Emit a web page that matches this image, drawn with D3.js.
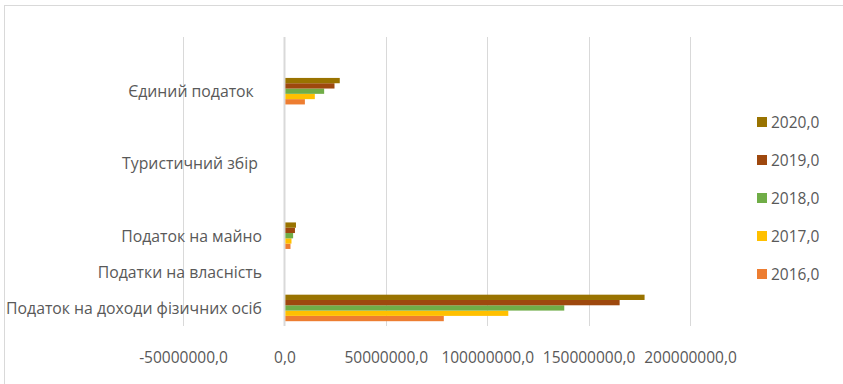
<!DOCTYPE html>
<html><head><meta charset="utf-8">
<script src="https://cdn.jsdelivr.net/npm/d3@7"></script>
<style>
body{margin:0;background:#fff}
text{font-family:'Open Sans',sans-serif;fill:#595959;white-space:pre}
</style></head>
<body><svg id="c" width="843" height="384"></svg>
<script>
// Local budget revenues by tax type, UAH
const categories = [
  "Податок на доходи фізичних осіб",
  "Податки на власність",
  "Податок на майно",
  "",
  "Туристичний збір\u00a0",
  "",
  "Єдиний податок\u00a0\u00a0",
  ""
];
const years = ["2016,0", "2017,0", "2018,0", "2019,0", "2020,0"];
const colors = ["#ED7D31", "#FFC000", "#70AD47", "#9E480E", "#997300"];
// one array per year, aligned with categories
const v2016 = [78600000, 0, 3000000, 0, 120000, 0, 10100000, 0];
const v2017 = [110400000, 0, 3500000, 0, 150000, 0, 15000000, 0];
const v2018 = [138000000, 0, 4300000, 0, 180000, 0, 19600000, 0];
const v2019 = [165300000, 0, 5200000, 0, 200000, 0, 24700000, 0];
const v2020 = [177600000, 0, 5700000, 0, 220000, 0, 27300000, 0];
const series = [v2016, v2017, v2018, v2019, v2020];
const xTicks = [-50000000, 0, 50000000, 100000000, 150000000, 200000000];

const svg = d3.select("#c");

// chart area outline
svg.append("rect").attr("x", 4.5).attr("y", 5.5).attr("width", 860).attr("height", 400)
  .attr("fill", "none").attr("stroke", "#d9d9d9").attr("stroke-width", 1);

const plot = {left: 183, right: 690, top: 37, bottom: 326};

const x = d3.scaleLinear().domain([-50000000, 200000000]).range([plot.left, plot.right]);
const y = d3.scaleBand().domain(d3.range(categories.length)).range([plot.bottom, plot.top]).padding(0);
const groupH = y.bandwidth() * 0.734;
const ySeries = d3.scaleBand().domain(d3.range(years.length).reverse())
  .range([(y.bandwidth() - groupH) / 2, (y.bandwidth() + groupH) / 2]).padding(0);

// vertical gridlines
svg.append("g").selectAll("line").data(xTicks).join("line")
  .attr("x1", d => Math.round(x(d)) + 0.5).attr("x2", d => Math.round(x(d)) + 0.5)
  .attr("y1", plot.top).attr("y2", plot.bottom)
  .attr("stroke", "#d9d9d9").attr("stroke-width", d => d === 0 ? 2 : 1);

// bars
const groups = svg.append("g").selectAll("g").data(series).join("g")
  .attr("fill", (d, i) => colors[i]);
groups.each(function(vals, si) {
  d3.select(this).selectAll("rect").data(vals.map((v, ci) => ({v, ci}))).join("rect")
    .attr("x", d => x(Math.min(0, d.v)) + 1)
    .attr("width", d => Math.max(0, Math.abs(x(d.v) - x(0)) - 1))
    .attr("y", d => y(d.ci) + ySeries(si))
    .attr("height", ySeries.bandwidth());
});

// category labels
svg.append("g").selectAll("text").data(categories).join("text")
  .attr("x", 262).attr("y", (d, i) => y(i) + y.bandwidth() / 2)
  .attr("text-anchor", "end").attr("dominant-baseline", "central")
  .style("font-size", "15.8px").text(d => d);

// value axis labels (plain hyphen for negatives, comma decimal)
const xAxis = d3.axisBottom(x).tickValues(xTicks).tickSize(0)
  .tickFormat(d => d3.format(".1f")(d).replace("\u2212", "-").replace(".", ","));
const ax = svg.append("g").attr("transform", `translate(0,${plot.bottom})`).call(xAxis);
ax.select(".domain").remove();
ax.selectAll("text").attr("y", 26).attr("dy", "0.7em")
  .style("font-family", "'Open Sans',sans-serif").style("font-size", "15.5px").attr("fill", "#595959");

// legend, latest year on top
const legendOrder = d3.range(years.length).reverse();
const lg = svg.append("g").selectAll("g").data(legendOrder).join("g")
  .attr("transform", (d, k) => `translate(757,${122 + k * 38})`);
lg.append("rect").attr("x", 0).attr("y", -5).attr("width", 10).attr("height", 10)
  .attr("fill", d => colors[d]);
lg.append("text").attr("x", 14).attr("y", 0).attr("dominant-baseline", "central")
  .style("font-size", "15.5px").text(d => years[d]);
</script></body></html>
